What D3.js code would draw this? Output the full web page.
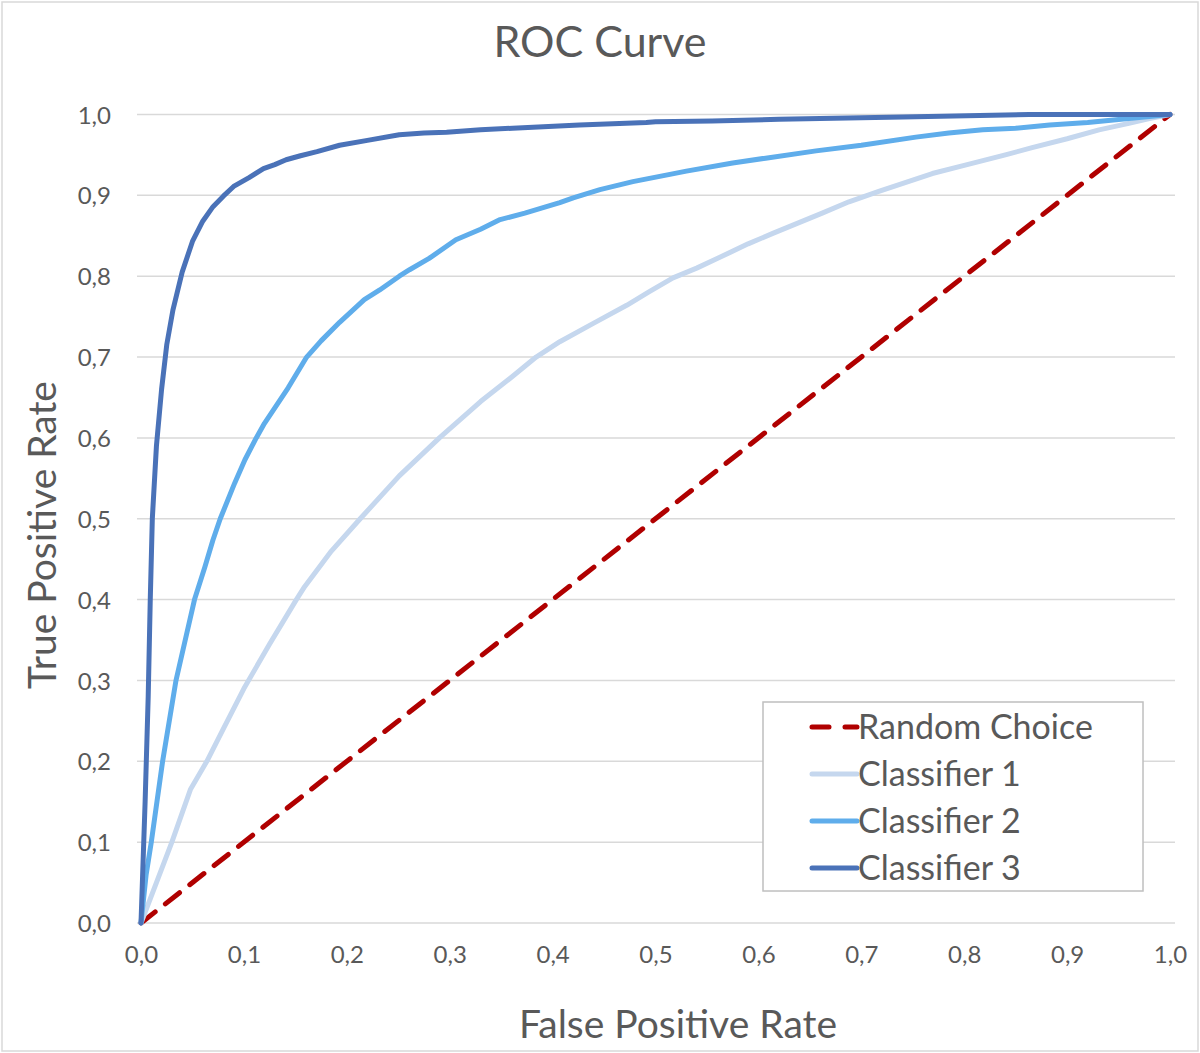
<!DOCTYPE html>
<html>
<head>
<meta charset="utf-8">
<title>ROC Curve</title>
<script src="https://cdn.jsdelivr.net/npm/d3@7"></script>
<style>
    body { margin: 0; background: #fff; }
    text { font-family: Lato, "Open Sans", sans-serif; fill: #595959; }
</style>
</head>
<body>
<div id="graphSection"></div>
<script>
// series names (legend order)
const seriesNames = ['Random Choice', 'Classifier 1', 'Classifier 2', 'Classifier 3'];

// tick labels, comma decimals like the original
const xTickValues = [0, 0.1, 0.2, 0.3, 0.4, 0.5, 0.6, 0.7, 0.8, 0.9, 1.0];
const xTickLabels = ['0,0', '0,1', '0,2', '0,3', '0,4', '0,5', '0,6', '0,7', '0,8', '0,9', '1,0'];
const yTickValues = [0, 0.1, 0.2, 0.3, 0.4, 0.5, 0.6, 0.7, 0.8, 0.9, 1.0];
const yTickLabels = ['0,0', '0,1', '0,2', '0,3', '0,4', '0,5', '0,6', '0,7', '0,8', '0,9', '1,0'];

// random choice diagonal
const fprRandom = [0, 1];
const tprRandom = [0, 1];

// classifier 1 (weakest)
const fprC1 = [0, 0.015, 0.030, 0.048, 0.064, 0.080, 0.100, 0.125, 0.151, 0.159, 0.185, 0.213, 0.251, 0.290, 0.330, 0.360, 0.384, 0.407, 0.440, 0.472, 0.494, 0.517, 0.540, 0.562, 0.590, 0.614, 0.662, 0.688, 0.717, 0.769, 0.800, 0.840, 0.866, 0.900, 0.931, 0.960, 0.980, 1.0];
const tprC1 = [0, 0.050, 0.100, 0.165, 0.200, 0.240, 0.290, 0.345, 0.400, 0.416, 0.460, 0.500, 0.553, 0.600, 0.645, 0.675, 0.700, 0.719, 0.742, 0.764, 0.781, 0.798, 0.810, 0.823, 0.840, 0.853, 0.878, 0.892, 0.905, 0.927, 0.937, 0.950, 0.959, 0.970, 0.981, 0.989, 0.995, 1.0];

// classifier 2
const fprC2 = [0, 0.005, 0.010, 0.021, 0.034, 0.043, 0.052, 0.062, 0.070, 0.077, 0.091, 0.101, 0.112, 0.120, 0.143, 0.161, 0.175, 0.193, 0.217, 0.232, 0.251, 0.261, 0.280, 0.306, 0.330, 0.349, 0.373, 0.394, 0.407, 0.420, 0.446, 0.478, 0.514, 0.530, 0.575, 0.607, 0.656, 0.700, 0.753, 0.785, 0.818, 0.850, 0.883, 0.920, 0.960, 1.0];
const tprC2 = [0, 0.060, 0.100, 0.200, 0.300, 0.350, 0.400, 0.440, 0.474, 0.500, 0.544, 0.573, 0.600, 0.618, 0.662, 0.700, 0.720, 0.743, 0.771, 0.783, 0.800, 0.808, 0.822, 0.845, 0.858, 0.870, 0.878, 0.886, 0.891, 0.897, 0.907, 0.917, 0.926, 0.930, 0.940, 0.946, 0.955, 0.962, 0.972, 0.977, 0.981, 0.983, 0.987, 0.990, 0.995, 1.0];

// classifier 3 (best)
const fprC3 = [0, 0.004, 0.007, 0.009, 0.011, 0.015, 0.020, 0.025, 0.031, 0.040, 0.050, 0.060, 0.070, 0.080, 0.090, 0.105, 0.119, 0.130, 0.141, 0.155, 0.171, 0.193, 0.220, 0.251, 0.275, 0.297, 0.330, 0.361, 0.426, 0.491, 0.500, 0.555, 0.620, 0.660, 0.740, 0.863, 1.0];
const tprC3 = [0, 0.150, 0.280, 0.400, 0.500, 0.590, 0.660, 0.715, 0.758, 0.805, 0.843, 0.868, 0.886, 0.899, 0.911, 0.922, 0.933, 0.938, 0.944, 0.949, 0.954, 0.962, 0.968, 0.975, 0.977, 0.978, 0.981, 0.983, 0.987, 0.990, 0.991, 0.992, 0.994, 0.995, 0.997, 1.0, 1.0];

const w = 1200;
const h = 1053;

// build one array of series from the small arrays
const pairs = (xs, ys) => xs.map((x, i) => ({ fpr: x, tpr: ys[i] }));
const series = [
    { name: seriesNames[0], values: pairs(fprRandom, tprRandom), color: '#B00000', dash: '18,13' },
    { name: seriesNames[1], values: pairs(fprC1, tprC1), color: '#C5D7EE', dash: null },
    { name: seriesNames[2], values: pairs(fprC2, tprC2), color: '#5FADEB', dash: null },
    { name: seriesNames[3], values: pairs(fprC3, tprC3), color: '#4A72B8', dash: null }
];

const svg = d3.select('#graphSection')
    .append('svg')
    .attr('width', w)
    .attr('height', h);

// outer chart border
svg.append('rect')
    .attr('x', 2)
    .attr('y', 2)
    .attr('width', 1196)
    .attr('height', 1049)
    .attr('fill', '#fff')
    .attr('stroke', '#D9D9D9')
    .attr('stroke-width', 1.5);

const xScale = d3.scaleLinear()
    .domain([0, 1])
    .range([141, 1170]);

const yScale = d3.scaleLinear()
    .domain([0, 1])
    .range([923, 114.5]);

// horizontal gridlines
svg.append('g')
    .selectAll('line')
    .data(yTickValues)
    .enter()
    .append('line')
    .attr('x1', xScale(0) - 4)
    .attr('x2', xScale(1) + 5)
    .attr('y1', d => yScale(d))
    .attr('y2', d => yScale(d))
    .attr('stroke', '#D9D9D9')
    .attr('stroke-width', 1.5);

// y axis (labels only)
const yAxis = d3.axisLeft(yScale)
    .tickValues(yTickValues)
    .tickFormat((d, i) => yTickLabels[i])
    .tickSize(0)
    .tickPadding(0);

const yAxisG = svg.append('g')
    .attr('transform', 'translate(111,0)')
    .call(yAxis);
yAxisG.select('.domain').remove();
yAxisG.selectAll('text')
    .attr('dy', '0.36em')
    .style('font-size', '24px')
    .style('fill', '#595959');

// x axis (labels only)
const xAxis = d3.axisBottom(xScale)
    .tickValues(xTickValues)
    .tickFormat((d, i) => xTickLabels[i])
    .tickSize(0)
    .tickPadding(0);

const xAxisG = svg.append('g')
    .attr('transform', 'translate(0,944)')
    .call(xAxis);
xAxisG.select('.domain').remove();
xAxisG.selectAll('text')
    .attr('dy', '0.8em')
    .style('font-size', '24px')
    .style('fill', '#595959');

// the curves
const line = d3.line()
    .x(d => xScale(d.fpr))
    .y(d => yScale(d.tpr));

svg.append('g')
    .selectAll('path')
    .data(series)
    .enter()
    .append('path')
    .attr('d', d => line(d.values))
    .attr('fill', 'none')
    .attr('stroke', d => d.color)
    .attr('stroke-width', 5)
    .attr('stroke-linejoin', 'round')
    .attr('stroke-linecap', 'round')
    .attr('stroke-dasharray', d => d.dash);

// title
svg.append('text')
    .attr('x', 600)
    .attr('y', 57)
    .attr('text-anchor', 'middle')
    .style('font-size', '43px')
    .text('ROC Curve');

// axis titles
svg.append('text')
    .attr('x', 678)
    .attr('y', 1038)
    .attr('text-anchor', 'middle')
    .style('font-size', '39px')
    .text('False Positive Rate');

svg.append('text')
    .attr('transform', 'translate(56,535) rotate(-90)')
    .attr('text-anchor', 'middle')
    .style('font-size', '39px')
    .text('True Positive Rate');

// legend
const legend = svg.append('g');
legend.append('rect')
    .attr('x', 763)
    .attr('y', 702)
    .attr('width', 380)
    .attr('height', 189)
    .attr('fill', '#fff')
    .attr('stroke', '#BFBFBF')
    .attr('stroke-width', 1.5);

const legendRow = legend.selectAll('.legend-row')
    .data(series)
    .enter()
    .append('g')
    .attr('class', 'legend-row')
    .attr('transform', (d, i) => `translate(812, ${727 + i * 47})`);

legendRow.append('line')
    .attr('x1', 0)
    .attr('x2', 45)
    .attr('stroke', d => d.color)
    .attr('stroke-width', 5)
    .attr('stroke-linecap', 'round')
    .attr('stroke-dasharray', d => d.dash ? '17,16' : null);

legendRow.append('text')
    .attr('x', 46)
    .attr('dy', '0.36em')
    .style('font-size', '34px')
    .text(d => d.name);
</script>
</body>
</html>
